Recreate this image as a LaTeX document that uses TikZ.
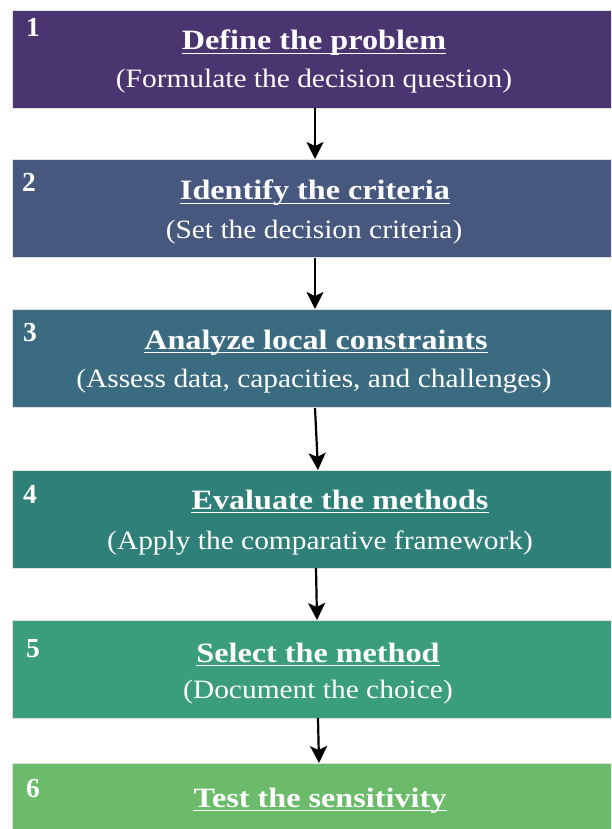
\documentclass[tikz,border=0pt]{standalone}
\usepackage{fontspec}
\setmainfont{Liberation Serif}
\newfontfamily\headfont[FakeStretch=1.15]{Liberation Serif}
\newfontfamily\subfont[FakeStretch=1.11]{Liberation Serif}
\usetikzlibrary{arrows.meta}

\definecolor{stepA}{HTML}{4B3570}
\definecolor{stepB}{HTML}{47587F}
\definecolor{stepC}{HTML}{3A6B80}
\definecolor{stepD}{HTML}{2F8078}
\definecolor{stepE}{HTML}{3A9E7A}
\definecolor{stepF}{HTML}{6BBB6B}

\tikzset{
  stepbox/.style={draw=black!12, line width=0.8pt, minimum width=610pt,
    minimum height=98pt, anchor=north west, inner sep=0pt, outer sep=0pt},
  steptitle/.style={text=white, anchor=base, inner sep=0pt,
    font=\headfont\bfseries\fontsize{28}{30}\selectfont},
  stepsub/.style={text=white, anchor=base, inner sep=0pt,
    font=\subfont\fontsize{26.5}{28}\selectfont},
  stepnum/.style={text=white, anchor=base west, inner sep=0pt,
    font=\bfseries\fontsize{27.5}{29}\selectfont},
  titlerule/.style={draw=white, line width=1.6pt},
  flow/.style={line width=2.2pt, -{Stealth[length=17pt, width=17pt, inset=4pt]}}
}

% underline a title node by its name
\newcommand{\ruleunder}[1]{%
  \draw[titlerule] ([yshift=-3.6pt]#1.base west) -- ([yshift=-3.6pt]#1.base east);}

\begin{document}
\begin{tikzpicture}[x=1pt, y=-1pt]
  \path[use as bounding box] (0,0) rectangle (611,829);
  \clip (0,0) rectangle (611,829);

  % boxes
  \node[stepbox, fill=stepA] (b1) at (12,10)  {};
  \node[stepbox, fill=stepB] (b2) at (12,159) {};
  \node[stepbox, fill=stepC] (b3) at (12,309) {};
  \node[stepbox, fill=stepD] (b4) at (12,470) {};
  \node[stepbox, fill=stepE] (b5) at (12,620) {};
  \node[stepbox, fill=stepF] (b6) at (12,763) {};

  % step numbers
  \node[stepnum] (n1) at (26,37)  {1};
  \node[stepnum] (n2) at (22,192) {2};
  \node[stepnum] (n3) at (23,341) {3};
  \node[stepnum] (n4) at (23,503) {4};
  \node[stepnum] (n5) at (26,657) {5};
  \node[stepnum] (n6) at (26,797) {6};

  % titles and descriptions
  \node[steptitle] (t1) at (314,50)  {Define the problem};
  \node[stepsub]   (s1) at (314,88)  {(Formulate the decision question)};
  \node[steptitle] (t2) at (315,200) {Identify the criteria};
  \node[stepsub]   (s2) at (314,238) {(Set the decision criteria)};
  \node[steptitle] (t3) at (316,349) {Analyze local constraints};
  \node[stepsub]   (s3) at (314,387) {(Assess data, capacities, and challenges)};
  \node[steptitle] (t4) at (340,509) {Evaluate the methods};
  \node[stepsub]   (s4) at (320,549) {(Apply the comparative framework)};
  \node[steptitle] (t5) at (318,662) {Select the method};
  \node[stepsub]   (s5) at (318,698) {(Document the choice)};
  \node[steptitle] (t6) at (320,807) {Test the sensitivity};
  \ruleunder{t1}\ruleunder{t2}\ruleunder{t3}
  \ruleunder{t4}\ruleunder{t5}\ruleunder{t6}

  % connectors
  \coordinate (a1s) at (315,108); \coordinate (a1e) at (315,159);
  \coordinate (a2s) at (315,258); \coordinate (a2e) at (315,309);
  \coordinate (a3s) at (315,408); \coordinate (a3e) at (318,470);
  \coordinate (a4s) at (316,568); \coordinate (a4e) at (317,620);
  \coordinate (a5s) at (318,718); \coordinate (a5e) at (319,763);
  \draw[flow] (a1s) -- (a1e);
  \draw[flow] (a2s) -- (a2e);
  \draw[flow] (a3s) -- (a3e);
  \draw[flow] (a4s) -- (a4e);
  \draw[flow] (a5s) -- (a5e);
\end{tikzpicture}
\end{document}
